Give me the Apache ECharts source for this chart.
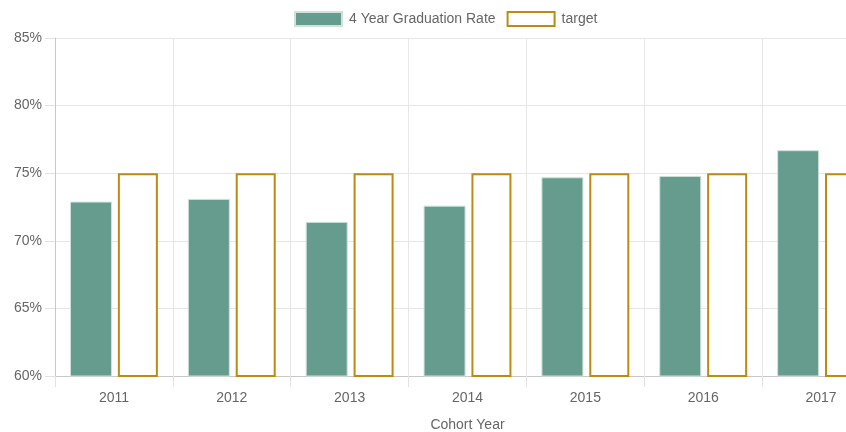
<!DOCTYPE html>
<html>
<head>
<meta charset="utf-8">
<script src="https://cdn.jsdelivr.net/npm/echarts@6/dist/echarts.min.js"></script>
<style>
html,body{margin:0;padding:0;background:#fff;overflow:hidden;width:846px;height:432px;}
#chart{width:880px;height:432px;}
</style>
</head>
<body>
<div id="chart"></div>
<script>
const categories = ['2011', '2012', '2013', '2014', '2015', '2016', '2017'];
const gradRate = [72.9, 73.1, 71.4, 72.6, 74.7, 74.8, 76.7];
const target = [75, 75, 75, 75, 75, 75, 75];
const yTicks = { min: 60, max: 85, interval: 5 };

const font = '"Liberation Sans", Arial, Helvetica, sans-serif';
const chart = echarts.init(document.getElementById('chart'), null, { renderer: 'canvas', width: 880, height: 432 });
chart.setOption({
  animation: false,
  backgroundColor: '#fff',
  textStyle: { fontFamily: font },
  legend: {
    top: 11,
    left: 294,
    padding: 0,
    icon: 'rect',
    itemWidth: 47,
    itemHeight: 14,
    itemGap: 11,
    textStyle: { color: '#666', fontSize: 14, fontFamily: font, padding: [0, 0, 0, 2] },
    data: ['4 Year Graduation Rate', 'target']
  },
  grid: { left: 55, right: 0, top: 38, bottom: 56, containLabel: false, outerBoundsMode: 'none' },
  xAxis: {
    type: 'category',
    data: categories,
    name: 'Cohort Year',
    nameLocation: 'middle',
    nameGap: 42,
    nameTextStyle: { color: '#666', fontSize: 14, fontFamily: font },
    axisLine: { show: true, lineStyle: { color: '#c8c8c8', width: 1 } },
    axisTick: { show: true, length: 11, lineStyle: { color: '#e2e2e2' } },
    axisLabel: { color: '#666', fontSize: 14, margin: 15, fontFamily: font },
    splitLine: { show: true, lineStyle: { color: '#e6e6e6', width: 1 } }
  },
  yAxis: {
    type: 'value',
    min: yTicks.min,
    max: yTicks.max,
    interval: yTicks.interval,
    axisLine: { show: true, lineStyle: { color: '#c8c8c8', width: 1 } },
    axisTick: { show: true, length: 10, lineStyle: { color: '#e2e2e2' } },
    axisLabel: { color: '#666', fontSize: 14, margin: 13, formatter: '{value}%', fontFamily: font },
    splitLine: { show: true, lineStyle: { color: '#e6e6e6', width: 1 } }
  },
  series: [
    {
      name: '4 Year Graduation Rate',
      type: 'bar',
      data: gradRate,
      barWidth: 42,
      barGap: '14%',
      itemStyle: { color: '#669c8d', borderColor: '#cfe2db', borderWidth: 1 }
    },
    {
      name: 'target',
      type: 'bar',
      data: target,
      barWidth: 40,
      itemStyle: { color: '#ffffff', borderColor: '#bd8a14', borderWidth: 2 }
    }
  ]
});
</script>
</body>
</html>
